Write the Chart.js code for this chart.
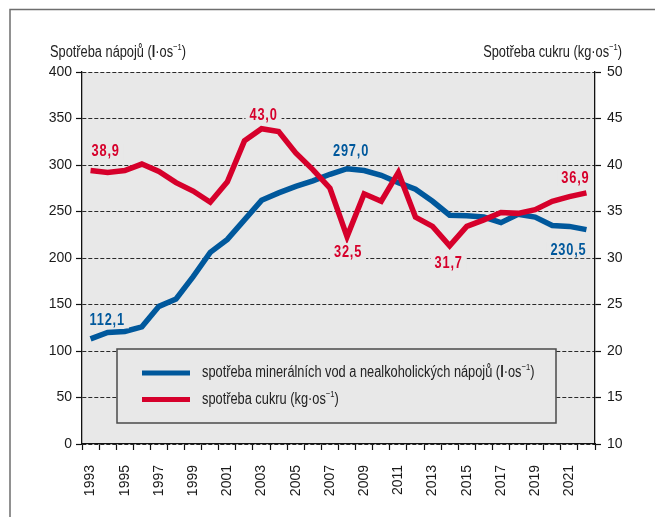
<!DOCTYPE html>
<html lang="cs">
<head>
<meta charset="UTF-8">
<title>Spotřeba nápojů a cukru</title>
<script src="https://cdn.jsdelivr.net/npm/chart.js"></script>
<style>
  body { margin: 0; background: #fff; }
  #wrap { width: 655px; height: 517px; }
</style>
</head>
<body>
<div id="wrap"><canvas id="chart" width="655" height="517"></canvas></div>
<script>
// data
const years = ['1993','1994','1995','1996','1997','1998','1999','2000','2001','2002',
               '2003','2004','2005','2006','2007','2008','2009','2010','2011','2012',
               '2013','2014','2015','2016','2017','2018','2019','2020','2021','2022'];
const yearTicks = ['1993','','1995','','1997','','1999','','2001','',
                   '2003','','2005','','2007','','2009','','2011','',
                   '2013','','2015','','2017','','2019','','2021',''];
const drinks = [113, 120, 121, 126, 148, 156, 180, 206, 220, 241,
                262, 270, 277, 283, 290, 296, 294, 289, 281, 274,
                261, 246, 245.5, 244, 238, 247, 244, 235, 234, 230.5];
const sugar = [39.4, 39.2, 39.4, 40.1, 39.3, 38.1, 37.2, 36.0, 38.2, 42.6,
               43.9, 43.6, 41.3, 39.5, 37.5, 32.3, 36.9, 36.1, 39.2, 34.4,
               33.4, 31.3, 33.4, 34.1, 34.9, 34.8, 35.2, 36.1, 36.6, 37.0];
const drinksNotes = [[0, '112,1'], [15, '297,0'], [29, '230,5']];
const sugarNotes = [[0, '38,9'], [10, '43,0'], [15, '32,5'], [21, '31,7'], [29, '36,9']];
const drinksLabel = 'spotřeba minerálních vod a nealkoholických nápojů (';
const sugarLabel = 'spotřeba cukru (kg·os';

const BLUE = '#00589c';
const RED = '#d6002b';
const PLOT_BG = '#e8e8e8';
const SANS = '"Liberation Sans", Arial, sans-serif';
const NARROW = 0.8; // horizontal squeeze to imitate the condensed face

// draws text pieces one after another (bold l, superscripts), squeezed horizontally
function drawParts(ctx, parts, x, y, align, spacing) {
  ctx.save();
  ctx.letterSpacing = (spacing || 0) + 'px';
  let total = 0;
  parts.forEach(p => { ctx.font = p.font; total += ctx.measureText(p.t).width; });
  total *= NARROW;
  const startX = align === 'right' ? x - total : align === 'center' ? x - total / 2 : x;
  ctx.translate(startX, y);
  ctx.scale(NARROW, 1);
  ctx.textAlign = 'left';
  ctx.textBaseline = 'middle';
  let cx = 0;
  parts.forEach(p => {
    ctx.font = p.font;
    ctx.fillText(p.t, cx, p.dy || 0);
    cx += ctx.measureText(p.t).width;
  });
  ctx.restore();
}

function measureParts(ctx, parts, spacing) {
  ctx.save();
  ctx.letterSpacing = (spacing || 0) + 'px';
  let total = 0;
  parts.forEach(p => { ctx.font = p.font; total += ctx.measureText(p.t).width; });
  ctx.restore();
  return total * NARROW;
}

const reg = '16px ' + SANS;
const bold = 'bold 16px ' + SANS;
const sup = '9.5px ' + SANS;

const decor = {
  id: 'decor',
  beforeDraw(chart) {
    const { ctx, chartArea: a } = chart;
    ctx.save();
    ctx.fillStyle = PLOT_BG;
    ctx.fillRect(a.left, a.top, a.right - a.left, a.bottom - a.top);
    ctx.restore();
  },
  beforeDatasetsDraw(chart) {
    // legend box sits over the grid, under the lines
    const ctx = chart.ctx;
    ctx.save();
    ctx.fillStyle = PLOT_BG;
    ctx.fillRect(117, 349, 439, 74);
    ctx.strokeStyle = '#4a4a4a';
    ctx.lineWidth = 1.5;
    ctx.strokeRect(117, 349, 439, 74);
    ctx.lineWidth = 5;
    ctx.strokeStyle = BLUE;
    ctx.beginPath(); ctx.moveTo(142, 373); ctx.lineTo(190, 373); ctx.stroke();
    ctx.strokeStyle = RED;
    ctx.beginPath(); ctx.moveTo(142, 399.5); ctx.lineTo(190, 399.5); ctx.stroke();
    ctx.fillStyle = '#222';
    drawParts(ctx, [{t: drinksLabel, font: reg}, {t: 'l', font: bold}, {t: '·os', font: reg},
                    {t: '−1', font: sup, dy: -5.5}, {t: ')', font: reg}], 202, 373, 'left');
    drawParts(ctx, [{t: sugarLabel, font: reg}, {t: '−1', font: sup, dy: -5.5}, {t: ')', font: reg}],
              202, 399.5, 'left');
    ctx.restore();
  },
  afterDatasetsDraw(chart) {
    const ctx = chart.ctx;
    const place = {
      0: { 0: [-1, -19, 'left'], 15: [4, -18, 'center'], 29: [0, 20, 'right'] },
      1: { 0: [1, -19, 'left'], 10: [2, -14, 'center'], 15: [1, 15, 'center'],
           21: [-1, 17, 'center'], 29: [3, -15, 'right'] }
    };
    const notes = [drinksNotes, sugarNotes];
    const labelFont = 'bold 16px ' + SANS;
    notes.forEach((list, di) => {
      const meta = chart.getDatasetMeta(di);
      list.forEach(([idx, txt]) => {
        const pt = meta.data[idx];
        const [dx, dy, align] = place[di][idx];
        const parts = [{t: txt, font: labelFont}];
        const w = measureParts(ctx, parts, 1);
        const x = pt.x + dx;
        const left = align === 'left' ? x : align === 'right' ? x - w : x - w / 2;
        const y = pt.y + dy;
        ctx.save();
        ctx.fillStyle = PLOT_BG;
        ctx.fillRect(left - 4, y - 8.5, w + 8, 17);
        ctx.fillStyle = chart.data.datasets[di].borderColor;
        drawParts(ctx, parts, left, y + 0.5, 'left', 1);
        ctx.restore();
      });
    });
  },
  afterDraw(chart) {
    const ctx = chart.ctx;
    ctx.save();
    ctx.fillStyle = '#222';
    drawParts(ctx, [{t: 'Spotřeba nápojů (', font: reg}, {t: 'l', font: bold}, {t: '·os', font: reg},
                    {t: '−1', font: sup, dy: -5.5}, {t: ')', font: reg}], 50, 52.5, 'left');
    drawParts(ctx, [{t: 'Spotřeba cukru (kg·os', font: reg}, {t: '−1', font: sup, dy: -5.5},
                    {t: ')', font: reg}], 622, 52.5, 'right');
    // outer frame, left and top
    ctx.strokeStyle = '#6e6e6e';
    ctx.lineWidth = 1.5;
    ctx.beginPath();
    ctx.moveTo(10, 517); ctx.lineTo(10, 9.5); ctx.lineTo(655, 9.5);
    ctx.stroke();
    ctx.restore();
  }
};

new Chart('chart', {
  type: 'line',
  data: {
    labels: years,
    datasets: [
      { label: 'nápoje', data: drinks, borderColor: BLUE, borderWidth: 5.5, pointRadius: 0,
        yAxisID: 'y', order: 1, tension: 0 },
      { label: 'cukr', data: sugar, borderColor: RED, borderWidth: 5.5, pointRadius: 0,
        yAxisID: 'y1', order: 0, tension: 0 }
    ]
  },
  options: {
    responsive: false,
    animation: false,
    layout: { padding: { top: 72, left: 0, right: 0, bottom: 0 } },
    plugins: { legend: { display: false }, tooltip: { enabled: false } },
    scales: {
      x: {
        offset: true,
        grid: { offset: true, drawOnChartArea: false, tickLength: 6, tickColor: '#111', tickWidth: 1.2 },
        border: { color: '#111', width: 1.3 },
        ticks: {
          autoSkip: false, maxRotation: 90, minRotation: 90, padding: 15,
          color: '#1a1a1a', font: { family: SANS, size: 14 },
          callback: (v, i) => yearTicks[i]
        },
        afterFit: s => { s.height = 73; }
      },
      y: {
        position: 'left', min: 0, max: 400,
        ticks: { stepSize: 50, padding: 4, color: '#1a1a1a', font: { family: SANS, size: 14 } },
        grid: { color: '#2a2a2a', lineWidth: 1, tickLength: 6, tickColor: '#111', tickWidth: 1.2 },
        border: { color: '#111', width: 1.3, dash: [4, 2] },
        afterFit: s => { s.width = 82; }
      },
      y1: {
        position: 'right', min: 10, max: 50,
        ticks: { stepSize: 5, padding: 6, color: '#1a1a1a', font: { family: SANS, size: 14 } },
        grid: { drawOnChartArea: false, tickLength: 6, tickColor: '#111', tickWidth: 1.2 },
        border: { color: '#111', width: 1.3 },
        afterFit: s => { s.width = 60; }
      }
    }
  },
  plugins: [decor]
});
</script>
</body>
</html>
